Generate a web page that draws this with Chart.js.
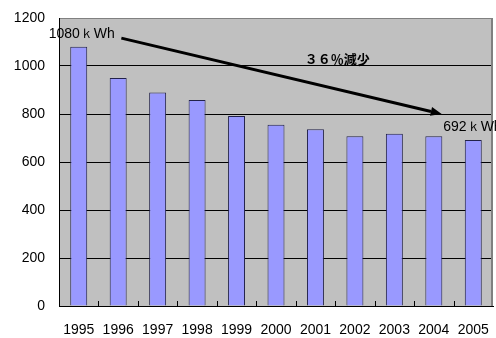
<!DOCTYPE html>
<html>
<head>
<meta charset="utf-8">
<script src="https://cdn.jsdelivr.net/npm/chart.js@4/dist/chart.umd.min.js"></script>
<style>
  html, body { margin: 0; padding: 0; background: #ffffff; }
  #wrap { width: 496px; height: 338px; }
</style>
</head>
<body>
<div id="wrap"><canvas id="c" width="496" height="338"></canvas></div>
<script>
// Household electricity use per year (kWh)
const years = ['1995','1996','1997','1998','1999','2000','2001','2002','2003','2004','2005'];
const usage = [1080, 950, 890, 858, 792, 755, 736, 707, 718, 707, 692];
const yTicks = [0, 200, 400, 600, 800, 1000, 1200];

// Annotation texts and anchor points (category index, kWh)
const reductionText = '３６％減少';
const reductionAt = { x: 6.55, y: 1027 };
const arrowFrom = { x: 1.08, y: 1116 };
const arrowTo = { x: 9.2, y: 800 };
const firstIdx = 0;
const lastIdx = usage.length - 1;
const unit = 'ｋWh';

const FONT = '"Liberation Sans", Arial, sans-serif';

const plotDecor = {
  id: 'plotDecor',
  beforeDraw(chart) {
    const { ctx, chartArea: a } = chart;
    ctx.save();
    ctx.fillStyle = '#C0C0C0';
    ctx.fillRect(a.left, a.top, a.right - a.left, a.bottom - a.top);
    ctx.restore();
  },
  afterDatasetsDraw(chart) {
    const { ctx, chartArea: a, scales } = chart;
    const x = scales.x, y = scales.y;
    ctx.save();
    // right frame edge
    ctx.strokeStyle = '#808080';
    ctx.lineWidth = 2;
    ctx.beginPath();
    ctx.moveTo(a.right - 1, a.top);
    ctx.lineTo(a.right - 1, a.bottom);
    ctx.stroke();
    // category boundary tick marks on the x axis
    ctx.strokeStyle = '#000';
    ctx.lineWidth = 1;
    for (let i = 1; i < years.length; i++) {
      const px = Math.round(x.getPixelForValue(i - 0.5)) + 0.5;
      ctx.beginPath();
      ctx.moveTo(px, a.bottom);
      ctx.lineTo(px, a.bottom - 5);
      ctx.stroke();
    }
    // value labels over first and last bars
    ctx.fillStyle = '#000';
    ctx.font = '14px ' + FONT;
    ctx.textAlign = 'left';
    ctx.textBaseline = 'middle';
    [firstIdx, lastIdx].forEach(i => {
      ctx.fillText(usage[i] + unit, x.getPixelForValue(i) - 30, y.getPixelForValue(usage[i]) - 13);
    });
    // trend arrow
    const x1 = x.getPixelForValue(arrowFrom.x), y1 = y.getPixelForValue(arrowFrom.y);
    const x2 = x.getPixelForValue(arrowTo.x), y2 = y.getPixelForValue(arrowTo.y);
    const ang = Math.atan2(y2 - y1, x2 - x1);
    const headLen = 11, headW = 4.5;
    const bx = x2 - headLen * Math.cos(ang), by = y2 - headLen * Math.sin(ang);
    ctx.strokeStyle = '#000';
    ctx.lineWidth = 3;
    ctx.beginPath();
    ctx.moveTo(x1, y1);
    ctx.lineTo(bx, by);
    ctx.stroke();
    ctx.beginPath();
    ctx.moveTo(x2, y2);
    ctx.lineTo(bx + headW * Math.sin(ang), by - headW * Math.cos(ang));
    ctx.lineTo(bx - headW * Math.sin(ang), by + headW * Math.cos(ang));
    ctx.closePath();
    ctx.fill();
    // reduction label
    ctx.textAlign = 'center';
    ctx.font = 'bold 13px "Noto Sans CJK JP", ' + FONT;
    ctx.fillText(reductionText, x.getPixelForValue(reductionAt.x), y.getPixelForValue(reductionAt.y));
    ctx.restore();
  }
};

new Chart(document.getElementById('c'), {
  type: 'bar',
  data: {
    labels: years,
    datasets: [{
      data: usage,
      backgroundColor: '#9999FF',
      borderColor: '#22224a',
      borderWidth: 1,
      barPercentage: 0.43,
      categoryPercentage: 1.0
    }]
  },
  options: {
    responsive: false,
    devicePixelRatio: 1,
    animation: false,
    layout: { padding: { top: 18, right: 3, left: 0, bottom: 0 } },
    plugins: { legend: { display: false }, tooltip: { enabled: false } },
    scales: {
      x: {
        offset: true,
        grid: { display: true, drawOnChartArea: false, drawTicks: false },
        border: { display: true, color: '#000', width: 1 },
        ticks: { color: '#000', font: { family: FONT, size: 14 }, padding: 16, maxRotation: 0, autoSkip: false },
        afterFit(s) { s.height = 32; s.paddingLeft = 0; s.paddingRight = 0; }
      },
      y: {
        min: 0,
        max: 1200,
        afterBuildTicks(s) { s.ticks = yTicks.map(v => ({ value: v })); },
        grid: {
          drawTicks: false,
          color: ctx => (ctx.tick && ctx.tick.value === 1200 ? '#808080' : '#000'),
          lineWidth: 1
        },
        border: { display: true, color: '#000', width: 1 },
        ticks: { color: '#000', font: { family: FONT, size: 14 }, padding: 14, callback: v => String(v) },
        afterFit(s) { s.width = 59; s.paddingTop = 0; s.paddingBottom = 0; }
      }
    }
  },
  plugins: [plotDecor]
});
</script>
</body>
</html>
